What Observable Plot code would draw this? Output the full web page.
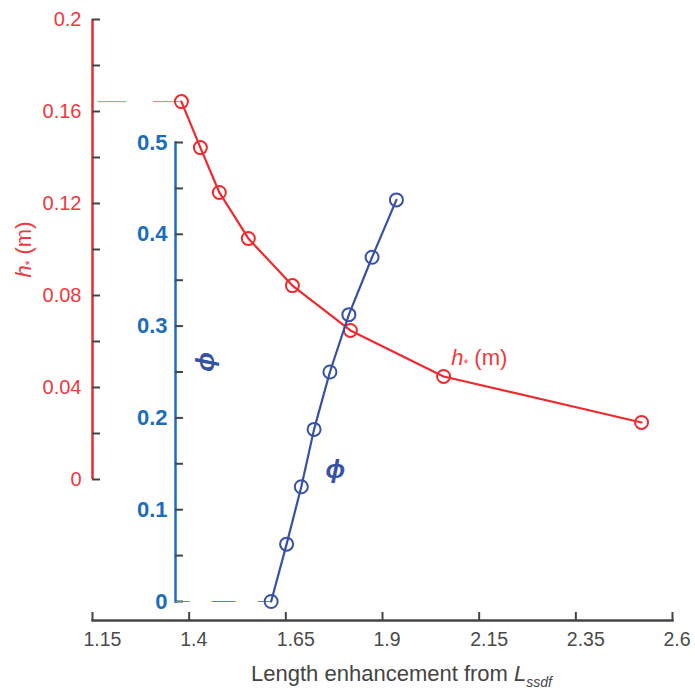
<!DOCTYPE html>
<html>
<head>
<meta charset="utf-8">
<script src="https://cdn.jsdelivr.net/npm/d3@7"></script>
<script src="https://cdn.jsdelivr.net/npm/@observablehq/plot@0.6"></script>
<style>
  body { margin: 0; background: #fff; }
  #chart { position: relative; width: 695px; height: 692px; }
  #chart svg { position: absolute; left: 0; top: 0; }
</style>
</head>
<body>
<div id="chart"></div>
<script>
// ---- data ----
const lengthH   = [1.380, 1.429, 1.478, 1.553, 1.667, 1.817, 2.058, 2.570];
const hStar     = [0.1643, 0.1443, 0.1248, 0.1048, 0.0843, 0.0648, 0.0448, 0.0248];
const lengthPhi = [1.612, 1.652, 1.690, 1.723, 1.764, 1.813, 1.873, 1.936];
const phiValues = [0, 0.0625, 0.125, 0.1875, 0.25, 0.3125, 0.375, 0.4375];

const xDomain = [1.15, 2.65];
const xTickValues = [1.15, 1.4, 1.65, 1.9, 2.15, 2.4, 2.65];
const xTickLabels = ["1.15", "1.4", "1.65", "1.9", "2.15", "2.35", "2.6"];

const hDomain = [0, 0.2];
const hTicks = [0, 0.04, 0.08, 0.12, 0.16, 0.2];
const hMinorTicks = [0, 0.02, 0.04, 0.06, 0.08, 0.1, 0.12, 0.14, 0.16, 0.18, 0.2];

const phiDomain = [0, 0.5];
const phiTicks = [0, 0.1, 0.2, 0.3, 0.4, 0.5];
const phiMinorTicks = [0, 0.05, 0.1, 0.15, 0.2, 0.25, 0.3, 0.35, 0.4, 0.45, 0.5];

const xTitle = "Length enhancement from L|ssdf";
const hLabel = "h* (m)";
const phiLabel = "ϕ";
const hAnnotation = [{x: 2.078, h: 0.05, text: hLabel}];
const phiAnnotation = [{x: 1.778, phi: 0.144, text: phiLabel}];

// ---- tables ----
const hData = lengthH.map((x, i) => ({x, h: hStar[i]}));
const phiData = lengthPhi.map((x, i) => ({x, phi: phiValues[i]}));
const xLabelOf = new Map(xTickValues.map((v, i) => [v, xTickLabels[i]]));

const W = 695, H = 692;
const red = "#ee2a2f", redText = "#f0383d";
const blue = "#3651a6", blueAxis = "#1e6fc0", blueText = "#1c6cbd";
const gray = "#444";
const font = "'Liberation Sans', Arial, Helvetica, sans-serif";
const xRange = [92, 672];
const blueMarginLeft = 175;

const pRed = Plot.plot({
  width: W, height: H,
  marginLeft: 92, marginRight: 23, marginTop: 19, marginBottom: 72,
  style: {fontFamily: font, background: "transparent", overflow: "visible"},
  x: {domain: xDomain, range: xRange, axis: null},
  y: {domain: hDomain, range: [479, 19], axis: null},
  marks: [
    Plot.frame({anchor: "bottom", stroke: gray, strokeWidth: 2.5}),
    Plot.axisX({ticks: xTickValues, anchor: "bottom", tickSize: 8, dy: -8, fill: "none",
                stroke: gray, strokeWidth: 2, label: null}),
    Plot.axisX({ticks: xTickValues, anchor: "bottom", tickSize: 0, tickPadding: 12,
                tickFormat: d => xLabelOf.get(d), textAnchor: "start", dx: -9,
                fill: "#4a4a4a", fontSize: 19.5, label: null}),
    Plot.ruleX([xDomain[0]], {y1: hDomain[0], y2: hDomain[1], stroke: red, strokeWidth: 2.5}),
    Plot.axisY({ticks: hMinorTicks, anchor: "left", tickSize: 8, dx: 8, fill: "none",
                stroke: gray, strokeWidth: 2, label: null}),
    Plot.axisY({ticks: hTicks, anchor: "left", tickSize: 0, tickPadding: 11,
                tickFormat: d => String(d), fill: redText, fontSize: 20, label: null}),
    Plot.ruleY([hStar[0]], {x1: lengthH[0], x2: xDomain[0], stroke: "#f07a7a", strokeWidth: 1,
                strokeDasharray: "28,27"}),
    Plot.line(hData, {x: "x", y: "h", stroke: red, strokeWidth: 2.2}),
    Plot.dot(hData, {x: "x", y: "h", r: 6.5, stroke: red, strokeWidth: 2, fill: "none"}),
    Plot.text([hLabel], {text: d => d, frameAnchor: "left", textAnchor: "middle",
                y: (hDomain[0] + hDomain[1]) / 2,
                dx: -69, rotate: -90, fontSize: 22, fill: redText}),
    Plot.text(hAnnotation, {x: "x", y: "h", text: "text", textAnchor: "start", lineAnchor: "bottom",
                fontSize: 22, fill: redText}),
    Plot.text([xTitle], {text: d => d, frameAnchor: "bottom", lineAnchor: "bottom", dy: 60, dx: 19,
                fontSize: 22, fill: gray})
  ]
});

// x value (in data units) where the blue axis sits, read back from Plot's own x scale
const blueAxisX = pRed.scale("x").invert(blueMarginLeft);

const pBlue = Plot.plot({
  width: W, height: H,
  marginLeft: blueMarginLeft, marginRight: 23, marginTop: 142, marginBottom: 91,
  style: {fontFamily: font, background: "transparent", overflow: "visible"},
  x: {domain: xDomain, range: xRange, axis: null},
  y: {domain: phiDomain, axis: null},
  marks: [
    Plot.frame({anchor: "left", stroke: blueAxis, strokeWidth: 2.5}),
    Plot.axisY({ticks: phiMinorTicks, anchor: "left", tickSize: 8, dx: 8, fill: "none",
                stroke: gray, strokeWidth: 2, label: null}),
    Plot.axisY({ticks: phiTicks, anchor: "left", tickSize: 0, tickPadding: 8,
                tickFormat: d => String(d), fill: blueText, fontSize: 22, fontWeight: "bold", label: null}),
    Plot.ruleY([phiValues[0]], {x1: lengthPhi[0], x2: blueAxisX,
                stroke: "#5f7fcf", strokeWidth: 1.2, strokeDasharray: "24,22", strokeDashoffset: 11}),
    Plot.line(phiData, {x: "x", y: "phi", stroke: blue, strokeWidth: 2.2}),
    Plot.dot(phiData, {x: "x", y: "phi", r: 6.5, stroke: blue, strokeWidth: 2, fill: "none"}),
    Plot.text([phiLabel], {text: d => d, frameAnchor: "left", textAnchor: "middle",
                y: (phiDomain[0] + phiDomain[1]) / 2,
                dx: 30, dy: -10, rotate: -90, fontSize: 26, fontWeight: "bold", fontStyle: "italic", fill: blue}),
    Plot.text(phiAnnotation, {x: "x", y: "phi", text: "text", fontSize: 26, fontWeight: "bold",
                fontStyle: "italic", fill: blue})
  ]
});

// rich text: italics and subscripts
function richText(svg) {
  d3.select(svg).selectAll("text").each(function () {
    const t = this.textContent;
    const sel = d3.select(this);
    if (t === hLabel) {
      sel.text(null);
      sel.append("tspan").attr("font-style", "italic").text("h");
      sel.append("tspan").attr("font-size", "12").attr("dy", "3").text("*");
      sel.append("tspan").attr("dy", "-3").text(" (m)");
    } else if (t === xTitle) {
      const [main, sub] = t.split("|");
      sel.text(null);
      sel.append("tspan").text(main.slice(0, -1));
      sel.append("tspan").attr("font-style", "italic").text("L");
      sel.append("tspan").attr("font-style", "italic").attr("font-size", "14").attr("dy", "6").text(sub);
    }
  });
}
richText(pRed);

const chart = document.getElementById("chart");
chart.appendChild(pRed);
chart.appendChild(pBlue);
</script>
</body>
</html>
